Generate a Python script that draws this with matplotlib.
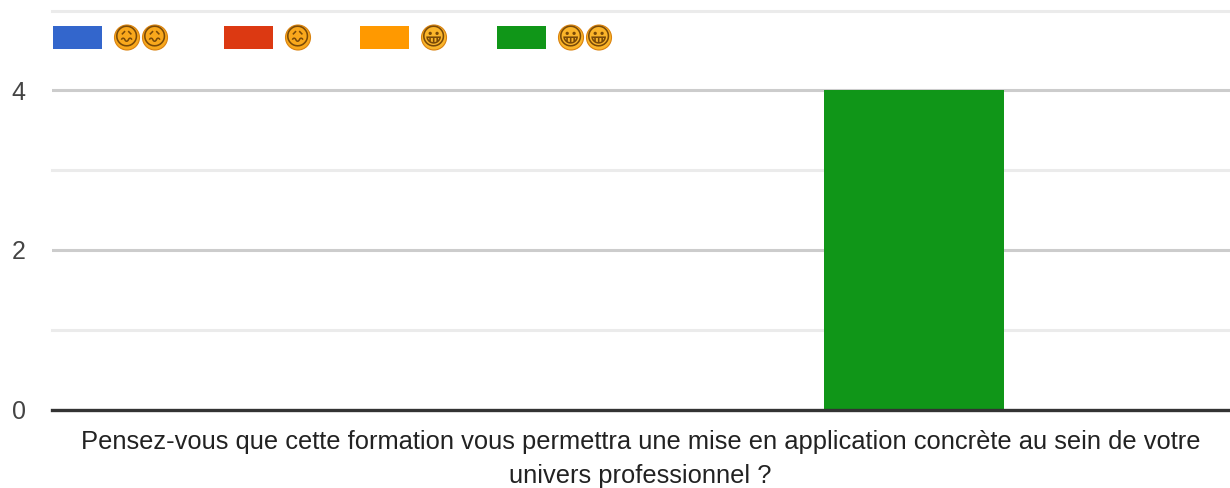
import numpy as np
import matplotlib
matplotlib.use('Agg')
import matplotlib.pyplot as plt
from matplotlib.patches import Rectangle, Ellipse
from matplotlib.transforms import ScaledTranslation

# one question, four answer levels
category = "Pensez-vous que cette formation vous permettra une mise en application concrète au sein de votre\nunivers professionnel ?"
series_labels = ["😖😖", "😖", "😀", "😀😀"]
series_values = [0, 0, 0, 4]
series_colors = ["#3366cc", "#dc3912", "#ff9900", "#109618"]
major_ticks = [0, 2, 4]
minor_ticks = [1, 3, 5]

W, H = 1230, 489
fig = plt.figure(figsize=(W / 100, H / 100), dpi=100)
plt.rcParams['font.family'] = ['Liberation Sans', 'DejaVu Sans']

# axes box in pixels, taken from the gridlines
left, right, y0, y5 = 52, 1230, 410.5, 11.5
ax = fig.add_axes([left / W, 1 - y0 / H, (right - left) / W, (y0 - y5) / H])
ax.set_xlim(left, right)
ax.set_ylim(0, 5)

for t in minor_ticks:
    ax.axhline(t, color="#ebebeb", lw=2.2, zorder=1, clip_on=False)
for t in major_ticks[1:]:
    ax.axhline(t, color="#cccccc", lw=2.2, zorder=1)

# bars side by side around the centre of the single category
bar_w = 180
step = 183
center = 639.5
for i, (v, c) in enumerate(zip(series_values, series_colors)):
    ax.bar(center + (i - 1.5) * step, v, width=bar_w, color=c, zorder=2)

ax.axhline(0, color="#333333", lw=2.4, zorder=3, clip_on=False)

for s in ax.spines.values():
    s.set_visible(False)
ax.set_xticks([])
ax.set_yticks(major_ticks)
ax.tick_params(axis='y', length=0, pad=29, labelsize=18, labelcolor="#444444")
# nudge the tick labels up one pixel
nudge = ScaledTranslation(0, 1 / 100, fig.dpi_scale_trans)
for lab in ax.get_yticklabels():
    lab.set_ha('left')
    lab.set_transform(lab.get_transform() + nudge)

fig.text(640.5 / W, 1 - 459 / H, category, ha='center', va='center', fontsize=18.4,
         color="#222222", linespacing=1.49)

# legend drawn by hand, in figure pixels
overlay = fig.add_axes([0, 0, 1, 1], facecolor='none')
overlay.set_xlim(0, W)
overlay.set_ylim(H, 0)
overlay.axis('off')
legend_x = [53, 224, 360, 497]
emoji_fill = ["#f9a81c", "#f9a81c", "#fbb52a", "#fbb52a"]
for x, label, c, fill in zip(legend_x, series_labels, series_colors, emoji_fill):
    overlay.add_patch(Rectangle((x, 26.5), 49, 23.5, color=c, lw=0))
    for j, ch in enumerate(label):
        ex = x + 74 + j * 28
        overlay.add_patch(Ellipse((ex, 38.5), 25, 25, facecolor=fill, edgecolor="#d9820f", lw=0.8))
        overlay.text(ex, 38.5, ch, ha='center', va='center', fontsize=17.5,
                     family='DejaVu Sans', color="#7a4a08")

fig.savefig("out.png", dpi=100)
